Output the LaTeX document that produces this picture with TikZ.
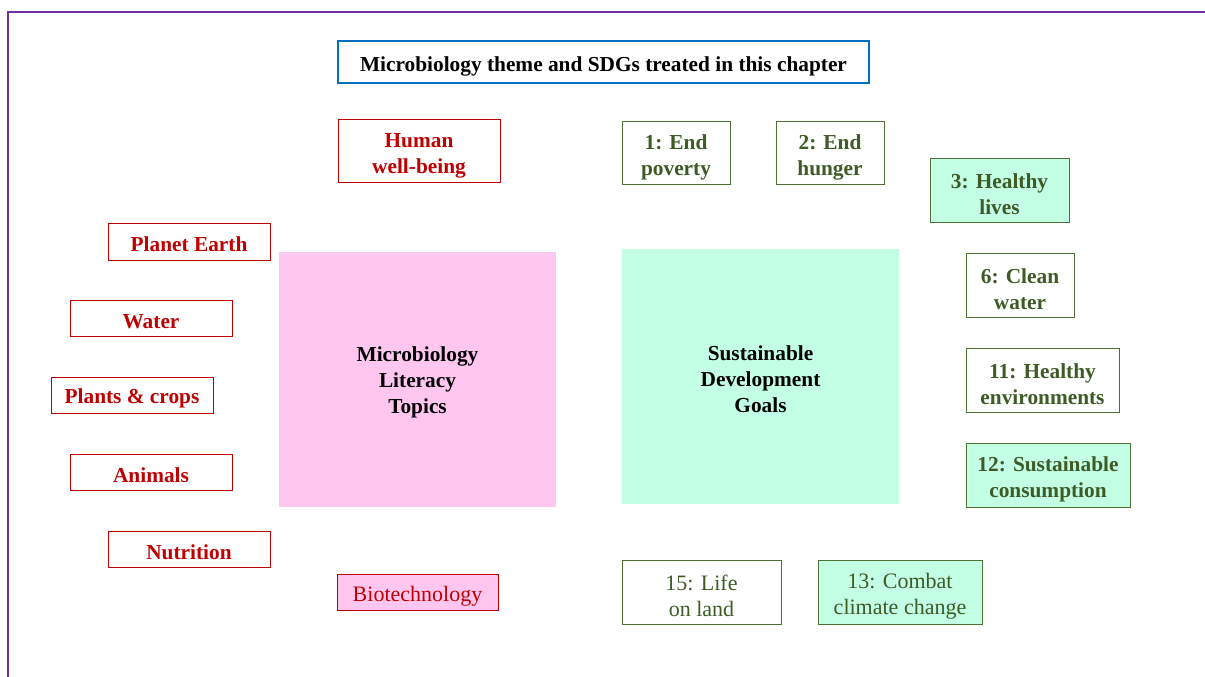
\documentclass[tikz,border=0pt]{standalone}
\usepackage{fontspec}
\setmainfont{Liberation Serif}
\definecolor{fpurple}{HTML}{7030A0}
\definecolor{tblue}{HTML}{0070C0}
\definecolor{dred}{HTML}{C00000}
\definecolor{dgreen}{HTML}{3E5B26}
\definecolor{bgreen}{HTML}{4F7035}
\definecolor{lgreen}{HTML}{C2FFE4}
\definecolor{lpink}{HTML}{FFC6F0}
\newcommand\tup{\rule{0pt}{18pt}}
\newcommand\tsm{\rule{0pt}{15.5pt}}
\begin{document}
\begin{tikzpicture}[x=0.75pt,y=-0.75pt,
  sz/.style 2 args={minimum width=#1*0.75pt, minimum height=#2*0.75pt, inner sep=0pt},
  txt/.style={font=\fontsize{16}{19.5}\selectfont\bfseries, align=center},
  reg/.style={font=\fontsize{16.5}{19.5}\selectfont\mdseries},
  redbox/.style={draw=dred, line width=0.7pt, text=dred, txt},
  grnbox/.style={draw=bgreen, line width=0.7pt, text=dgreen, txt},
  grnfill/.style={grnbox, fill=lgreen},
  big/.style={txt, text=black}]
\useasboundingbox (0,0) rectangle (1205,677);
\draw[fpurple, line width=1.5pt] (8,690) -- (8,12) -- (1215,12);

\node[draw=tblue, line width=1pt, txt, sz={531}{42}] (title) at (603.5,62) {\tup Microbiology theme and SDGs treated in this chapter};

\node[fill=lpink, big, sz={277}{255}] (micro) at (417.5,379.5) {\tsm Microbiology\\Literacy\\Topics};
\node[fill=lgreen, big, sz={277}{255}] (sdg) at (760.5,376.5) {\tsm Sustainable\\Development\\Goals};

\node[redbox, sz={162}{63}] (human) at (419,150.5) {\tup Human\\well-being};
\node[redbox, sz={162}{37}] (planet) at (189,241.5) {\tsm Planet Earth};
\node[redbox, sz={162}{36}] (water) at (151,318) {\tsm Water};
\node[redbox, sz={162}{36}] (plants) at (132,395) {\tsm Plants \& crops};
\node[redbox, sz={162}{36}] (animals) at (151,472) {\tsm Animals};
\node[redbox, sz={162}{36}] (nutrition) at (189,549) {\tsm Nutrition};
\node[redbox, fill=lpink, reg, sz={161}{36}] (biotech) at (417.5,592) {\tup Biotechnology};

\node[grnbox, sz={108}{63}] (s1) at (676,152.5) {\tup 1: End\\poverty};
\node[grnbox, sz={108}{63}] (s2) at (830,152.5) {\tup 2: End\\hunger};
\node[grnfill, sz={139}{64}] (s3) at (999.5,190) {\tup 3: Healthy\\lives};
\node[grnbox, sz={108}{64}] (s6) at (1020,285) {\tup 6: Clean\\water};
\node[grnbox, sz={153}{64}] (s11) at (1042.5,380) {\tup 11: Healthy\\environments};
\node[grnfill, sz={164}{64}] (s12) at (1048,475) {\tup 12: Sustainable\\consumption};
\node[grnbox, reg, sz={159}{64}] (s15) at (701.5,592) {\tup 15: Life\\on land};
\node[grnfill, reg, sz={164}{64}] (s13) at (900,592) {\tup 13: Combat\\climate change};
\end{tikzpicture}
\end{document}
